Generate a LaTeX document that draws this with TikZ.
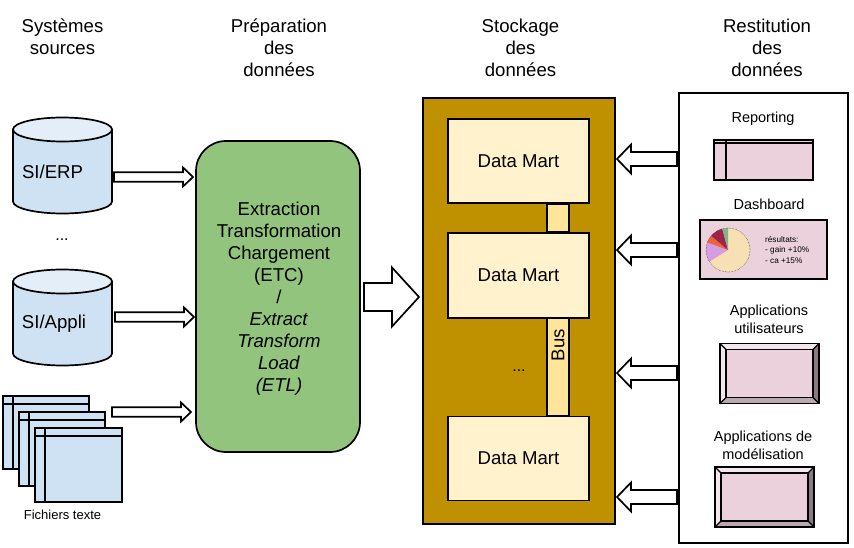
\documentclass[tikz,border=0pt]{standalone}
\usepackage{fontspec}
\setmainfont{Liberation Sans}
\usetikzlibrary{shapes, shapes.geometric, positioning, arrows.meta, calc}
\definecolor{srcblue}{HTML}{CFE2F3}
\definecolor{srctop}{HTML}{E3EEF8}
\definecolor{etlgreen}{HTML}{93C47D}
\definecolor{storegold}{HTML}{BF9000}
\definecolor{martcream}{HTML}{FFF2CC}
\definecolor{busyellow}{HTML}{FFE599}
\definecolor{appfill}{HTML}{EAD1DC}
\definecolor{bevellight}{HTML}{F3E6EC}
\definecolor{bevelmid}{HTML}{BBA7B0}
\definecolor{beveldark}{HTML}{8C7A82}
\definecolor{slicewheat}{HTML}{F7E0B3}
\definecolor{sliceorchid}{HTML}{D79DE2}
\definecolor{sliceorange}{HTML}{F0623C}
\definecolor{slicewine}{HTML}{9E2349}
\definecolor{slicegreen}{HTML}{80B58A}
\tikzset{
  bigtext/.style={font=\fontsize{18.6}{22}\selectfont, align=center},
  midtext/.style={font=\fontsize{14.5}{18}\selectfont, align=center},
  dotstext/.style={font=\fontsize{16}{18}\selectfont},
  dbnode/.style={
    minimum width=102pt,
    minimum height=99pt,
    inner sep=0pt,
    path picture={
      \coordinate (ctop) at ([yshift=-13.5pt]path picture bounding box.north);
      \coordinate (cbot) at ([yshift=13.5pt]path picture bounding box.south);
      \draw[line width=1.7pt, fill=srcblue]
        ([xshift=-49.5pt]ctop) --
        ([xshift=-49.5pt]cbot) arc[start angle=180, end angle=360, x radius=49.5pt, y radius=12pt] --
        ([xshift=49.5pt]ctop) -- cycle;
      \draw[line width=1.7pt, fill=srctop] (ctop) ellipse[x radius=49.5pt, y radius=12pt];
    }
  },
  martnode/.style={
    draw,
    line width=1.7pt,
    fill=martcream,
    minimum width=141pt,
    minimum height=84pt,
    inner sep=0pt,
    bigtext
  },
  busbar/.style={
    draw,
    line width=1.7pt,
    fill=busyellow,
    minimum width=22pt,
    inner sep=0pt
  },
  tablebox/.style n args={4}{
    draw,
    line width=1.7pt,
    fill=#1,
    minimum width=#2,
    minimum height=#3,
    inner sep=0pt,
    path picture={
      \draw[line width=1.7pt]
        ([xshift=#4]path picture bounding box.south west) --
        ([xshift=#4]path picture bounding box.north west);
    }
  },
  blockarrow/.style n args={3}{
    draw,
    fill=white,
    line width=1.7pt,
    line join=miter,
    to path={
      ($(\tikztostart)+(0,#1)$) --
      ($(\tikztotarget)!#3!(\tikztostart)+(0,#1)$) --
      ($(\tikztotarget)!#3!(\tikztostart)+(0,#2)$) --
      (\tikztotarget) --
      ($(\tikztotarget)!#3!(\tikztostart)+(0,-#2)$) --
      ($(\tikztotarget)!#3!(\tikztostart)+(0,-#1)$) --
      ($(\tikztostart)+(0,-#1)$) -- cycle
    }
  },
  bevelbox/.style={
    draw,
    line width=1.7pt,
    fill=appfill,
    minimum width=99pt,
    minimum height=60pt,
    inner sep=0pt,
    path picture={
      \coordinate (nw) at (path picture bounding box.north west);
      \coordinate (ne) at (path picture bounding box.north east);
      \coordinate (sw) at (path picture bounding box.south west);
      \coordinate (se) at (path picture bounding box.south east);
      \coordinate (inw) at ([shift={(6pt,-6pt)}]nw);
      \coordinate (ine) at ([shift={(-6pt,-6pt)}]ne);
      \coordinate (isw) at ([shift={(6pt,6pt)}]sw);
      \coordinate (ise) at ([shift={(-6pt,6pt)}]se);
      \fill[bevellight] (nw) -- (ne) -- (ine) -- (inw) -- cycle;
      \fill[bevellight] (nw) -- (sw) -- (isw) -- (inw) -- cycle;
      \fill[beveldark] (ne) -- (se) -- (ise) -- (ine) -- cycle;
      \fill[bevelmid] (sw) -- (se) -- (ise) -- (isw) -- cycle;
      \draw[line width=1.2pt] (nw) -- (inw) (ne) -- (ine) (sw) -- (isw) (se) -- (ise);
      \draw[line width=1.2pt] (inw) rectangle (ise);
    }
  }
}
\begin{document}
\begin{tikzpicture}[x=1pt, y=-1pt]
  \useasboundingbox (0,0) rectangle (854,548);

  % column titles
  \node[bigtext] (titlesrc) at (62.5,37) {Systèmes\\sources};
  \node[bigtext] (titleprep) at (279,48) {Préparation\\des\\données};
  \node[bigtext] (titlestore) at (520.5,48) {Stockage\\des\\données};
  \node[bigtext] (titleout) at (767,48) {Restitution\\des\\données};

  % sources
  \node[dbnode] (erp) at (62.5,165.5) {};
  \node[bigtext] (erptext) at (52.5,172) {SI/ERP};
  \node[dotstext] (srcdots) at (62,240) {...};
  \node[dbnode] (appli) at (62.5,317.5) {};
  \node[bigtext] (applitext) at (54,324) {SI/Appli};
  \node[tablebox={srcblue}{86pt}{73pt}{10pt}] (fileone) at (46,432.5) {};
  \draw[line width=1.7pt] (fileone.north west) ++(0,8.5) -- ++(86,0);
  \node[tablebox={srcblue}{86pt}{74pt}{10pt}] (filetwo) at (62,449) {};
  \draw[line width=1.7pt] (filetwo.north west) ++(0,9) -- ++(86,0);
  \node[tablebox={srcblue}{87pt}{74pt}{10pt}] (filethree) at (78.5,465) {};
  \draw[line width=1.7pt] (filethree.north west) ++(0,9) -- ++(87,0);
  \node[font=\fontsize{13}{15}\selectfont] (filetext) at (62.5,514.5) {Fichiers texte};

  % preparation
  \node[
    draw,
    line width=1.7pt,
    fill=etlgreen,
    rounded corners=30pt,
    minimum width=164pt,
    minimum height=311pt
  ] (etl) at (278,296.5) {};
  \node[bigtext] (etltext) at (279,299) {Extraction\\Transformation\\Chargement\\(ETC)\\/\\\textit{Extract}\\\textit{Transform}\\\textit{Load}\\\textit{(ETL)}};

  % storage
  \node[
    draw,
    line width=1.7pt,
    fill=storegold,
    minimum width=192pt,
    minimum height=426pt
  ] (store) at (519,311) {};
  \node[martnode] (martone) at (518.5,161) {Data Mart};
  \node[martnode, below=28pt of martone, minimum height=85pt] (marttwo) {Data Mart};
  \node[martnode, below=97pt of marttwo] (martthree) {Data Mart};
  \node[busbar, minimum height=28pt] (busone) at ($(martone.south) !.5! (marttwo.north) + (39.5,0)$) {};
  \node[busbar, minimum height=97pt] (bustwo) at ($(marttwo.south) !.5! (martthree.north) + (39.5,0)$) {};
  \node[bigtext, rotate=90] (bustext) at (558,345) {Bus};
  \node[dotstext] (martdots) at (519,371) {...};

  % restitution
  \node[
    draw,
    line width=1.7pt,
    minimum width=169pt,
    minimum height=450pt
  ] (panel) at (763.5,318) {};
  \node[midtext] (reporttext) at (763,118.5) {Reporting};
  \node[tablebox={appfill}{99pt}{40pt}{12pt}] (report) at (763.5,160) {};
  \draw[line width=1.7pt] (report.north west) ++(0,4) -- ++(99,0);
  \node[midtext] (dashtext) at (769,204.5) {Dashboard};
  \node[
    draw,
    line width=1.7pt,
    fill=appfill,
    minimum width=127pt,
    minimum height=59pt
  ] (dash) at (763.5,249.5) {};
  \begin{scope}[shift={(728,250)}, x=1pt, y=1pt]
    \foreach \from/\to/\col in {
      90/-148/slicewheat,
      212/160/sliceorchid,
      160/140/sliceorange,
      140/105/slicewine,
      105/90/slicegreen} {
      \fill[\col] (0,0) -- (\from:22) arc (\from:\to:22) -- cycle;
    }
    \draw[densely dotted, line width=.5pt, black!80] (0,0) circle (22);
  \end{scope}
  \node[
    font=\fontsize{8.2}{10.4}\selectfont,
    align=left,
    right=0pt of dash.center,
    xshift=1.5pt,
    yshift=-.5pt,
    inner sep=0pt
  ] (dashnote) {résultats:\\- gain +10\%\\- ca +15\%};
  \node[midtext] (usertext) at (769,319) {Applications\\utilisateurs};
  \node[bevelbox] (userapp) at (769.5,373.5) {};
  \node[midtext] (modeltext) at (763,445) {Applications de\\modélisation};
  \node[bevelbox] (modelapp) at (764.5,497) {};

  % free ends of the block arrows
  \coordinate (erpout) at (114,177);
  \coordinate (erpin) at (193,177);
  \coordinate (appliout) at (115,317);
  \coordinate (appliin) at (194,317);
  \coordinate (fileout) at (112,412);
  \coordinate (filein) at (191,412);
  \coordinate (etlout) at (364,297);
  \coordinate (storein) at (419,297);
  \foreach \name/\ypos in {report/159, dash/250, userapp/373, modelapp/497} {
    \coordinate (\name out) at (677,\ypos);
    \coordinate (\name in) at (617,\ypos);
  }

  \draw[blockarrow={4.7pt}{9.5pt}{10pt}] (erpout) to (erpin);
  \draw[blockarrow={4.7pt}{9.5pt}{10pt}] (appliout) to (appliin);
  \draw[blockarrow={4.7pt}{9.5pt}{10pt}] (fileout) to (filein);
  \draw[blockarrow={14pt}{29.5pt}{27pt}] (etlout) to (storein);
  \foreach \name in {report, dash, userapp, modelapp} {
    \draw[blockarrow={7pt}{14.5pt}{14pt}] (\name out) to (\name in);
  }
\end{tikzpicture}
\end{document}
